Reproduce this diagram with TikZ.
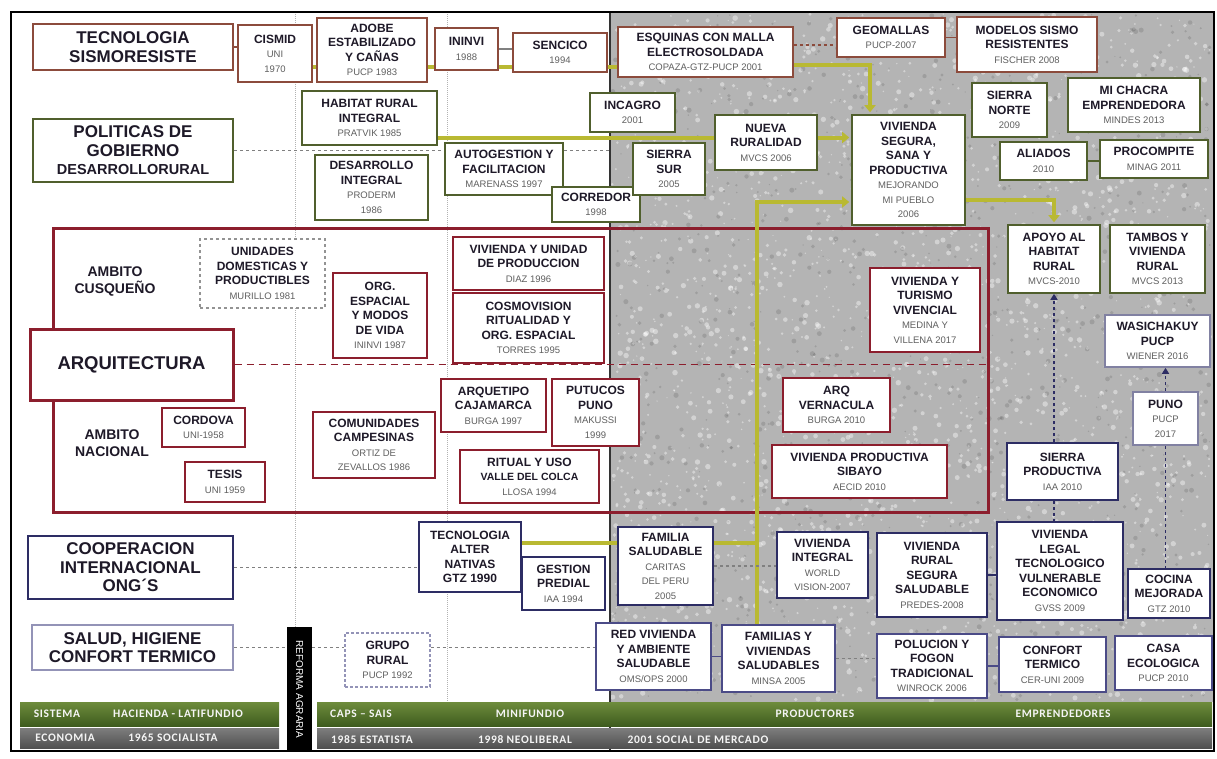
\documentclass[tikz,border=0pt]{standalone}
\usepackage{fontspec}
\setmainfont{Liberation Sans}
\newfontfamily\barfont[LetterSpace=6]{Carlito}
\usetikzlibrary{arrows.meta}

\definecolor{techc}{RGB}{140,75,60}
\definecolor{govc}{RGB}{80,95,45}
\definecolor{arqc}{RGB}{140,30,45}
\definecolor{ongc}{RGB}{45,45,100}
\definecolor{saludc}{RGB}{75,75,135}
\definecolor{ylw}{RGB}{185,185,50}
\definecolor{txt}{RGB}{30,25,40}
\definecolor{subgray}{RGB}{95,95,95}
\definecolor{bggray}{RGB}{180,180,180}
\definecolor{greentop}{RGB}{110,140,60}
\definecolor{greenbot}{RGB}{62,92,30}
\definecolor{greytop}{RGB}{125,125,125}
\definecolor{greybot}{RGB}{80,80,80}

\newcommand\yr[1]{{\mdseries\fontsize{9.5}{14.5}\selectfont\color{subgray}#1}}

\pgfdeclarelayer{back}
\pgfdeclarelayer{lines}
\pgfsetlayers{back,lines,main}

\begin{document}
\begin{tikzpicture}
	[x=1pt,y=-1pt,
	sz/.style 2 args={minimum width=#1, minimum height=#2},
	box/.style={draw, fill=white, line width=1.6pt, align=center, inner sep=1pt, text=txt,
		font=\bfseries\fontsize{12}{14.5}\selectfont},
	techbox/.style={box, draw=techc},
	govbox/.style={box, draw=govc},
	arqbox/.style={box, draw=arqc},
	ongbox/.style={box, draw=ongc},
	saludbox/.style={box, draw=saludc, line width=1.3pt},
	catbox/.style={box, line width=2pt, font=\bfseries\fontsize{17}{18.5}\selectfont},
	lbl/.style={align=center, text=txt, font=\bfseries\fontsize{14}{17}\selectfont},
	yline/.style={draw=ylw, line width=4pt},
	yarrow/.style={yline, shorten >=2pt, -{Triangle[length=7pt,width=11pt]}},
	dline/.style={draw=gray, dashed, line width=1.2pt},
	rdash/.style={draw=arqc, dashed, dash pattern=on 7pt off 5pt, line width=1.5pt},
	ndash/.style={draw=ongc, dashed, line width=1.5pt},
	narrow/.style={ndash, -{Triangle[length=6pt,width=7pt]}},
	bartxt/.style={text=white!92!gray, font=\barfont\bfseries\fontsize{11.5}{13}\selectfont}]

	\useasboundingbox (0,0) rectangle (1217,758);

	% background
	\begin{pgfonlayer}{back}
		\fill[white] (0,0) rectangle (1217,758);
		\fill[bggray] (610,12) rectangle (1213,702);
		\pgfmathsetseed{11}
		\foreach \i in {1,...,2600}{
			\pgfmathsetmacro\px{612+rnd*598}
			\pgfmathsetmacro\py{14+rnd*686}
			\pgfmathsetmacro\pr{0.6+rnd*2.2}
			\fill[white, opacity=.4] (\px,\py) circle[radius=\pr pt];
		}
		\foreach \i in {1,...,1200}{
			\pgfmathsetmacro\px{612+rnd*598}
			\pgfmathsetmacro\py{14+rnd*686}
			\pgfmathsetmacro\pr{0.6+rnd*2}
			\fill[black, opacity=.12] (\px,\py) circle[radius=\pr pt];
		}
		\draw[gray!60, densely dotted, line width=1pt] (295,12) -- (295,702);
		\draw[gray!60, densely dotted, line width=1pt] (447,12) -- (447,702);
		\draw[gray!40!black, line width=1.2pt] (610,12) -- (610,751);
	\end{pgfonlayer}

	% categories
	\node[catbox, draw=techc, sz={200}{46}] (tecno) at (133,47) {TECNOLOGIA\\SISMORESISTE};
	\node[catbox, draw=govc, sz={200}{63}] (politicas) at (133,150.5)
		{POLITICAS DE\\GOBIERNO\\{\fontsize{14.5}{17}\selectfont DESARROLLORURAL}};
	\node[catbox, draw=arqc, line width=3pt, sz={203}{71}, font=\bfseries\fontsize{18.5}{20}\selectfont] (arq) at (131.5,364.5) {ARQUITECTURA};
	\node[catbox, draw=ongc, sz={205}{63}] (coop) at (130.5,567.5) {COOPERACION\\INTERNACIONAL\\ONG´S};
	\node[catbox, draw=saludc!60, line width=1.5pt, sz={201}{45}] (salud) at (132.5,647.5) {SALUD, HIGIENE\\CONFORT TERMICO};
	\node[lbl] (cusqueno) at (115,281) {AMBITO\\CUSQUEÑO};
	\node[lbl] (nacional) at (112,443) {AMBITO\\NACIONAL};

	% tecnologia sismoresistente
	\node[techbox, sz={74}{57}] (cismid) at (275,53.5) {CISMID\\\yr{UNI}\\\yr{1970}};
	\node[techbox, sz={110}{64}] (adobe) at (372,50) {ADOBE\\ESTABILIZADO\\Y CAÑAS\\\yr{PUCP 1983}};
	\node[techbox, sz={63}{42}] (ininvi) at (466.5,49) {ININVI\\\yr{1988}};
	\node[techbox, sz={94}{39}] (sencico) at (560,52.5) {SENCICO\\\yr{1994}};
	\node[techbox, sz={175}{50}] (esquinas) at (705.5,52) {ESQUINAS CON MALLA\\ELECTROSOLDADA\\\yr{COPAZA-GTZ-PUCP 2001}};
	\node[techbox, sz={108}{39}] (geomallas) at (891,37.5) {GEOMALLAS\\\yr{PUCP-2007}};
	\node[techbox, sz={140}{55}] (modelos) at (1027,44.5) {MODELOS SISMO\\RESISTENTES\\\yr{FISCHER 2008}};

	% politicas de gobierno
	\node[govbox, sz={135}{54}] (habitat) at (369.5,118) {HABITAT RURAL\\INTEGRAL\\\yr{PRATVIK 1985}};
	\node[govbox, sz={113}{65}] (desarrollo) at (371.5,187.5) {DESARROLLO\\INTEGRAL\\\yr{PRODERM}\\\yr{1986}};
	\node[govbox, sz={118}{52}] (autogestion) at (504,169) {AUTOGESTION Y\\FACILITACION\\\yr{MARENASS 1997}};
	\node[govbox, sz={88}{35}] (corredor) at (596,204.5) {CORREDOR\\\yr{1998}};
	\node[govbox, sz={85}{39}] (incagro) at (632.5,112.5) {INCAGRO\\\yr{2001}};
	\node[govbox, sz={72}{52}] (sierrasur) at (669,169) {SIERRA\\SUR\\\yr{2005}};
	\node[govbox, sz={102}{55}] (nueva) at (766,142.5) {NUEVA\\RURALIDAD\\\yr{MVCS 2006}};
	\node[govbox, sz={113}{110}] (segura) at (908.5,170)
		{VIVIENDA\\SEGURA,\\SANA Y\\PRODUCTIVA\\\yr{MEJORANDO}\\\yr{MI PUEBLO}\\\yr{2006}};
	\node[govbox, sz={75}{54}] (sierranorte) at (1009.5,110) {SIERRA\\NORTE\\\yr{2009}};
	\node[govbox, sz={132}{54}] (michacra) at (1134,105) {MI CHACRA\\EMPRENDEDORA\\\yr{MINDES 2013}};
	\node[govbox, sz={87}{38}] (aliados) at (1043.5,161) {ALIADOS\\\yr{2010}};
	\node[govbox, sz={108}{38}] (procompite) at (1154,159) {PROCOMPITE\\\yr{MINAG 2011}};
	\node[govbox, sz={92}{68}] (apoyo) at (1054,259) {APOYO AL\\HABITAT\\RURAL\\\yr{MVCS-2010}};
	\node[govbox, sz={95}{68}] (tambos) at (1157.5,259) {TAMBOS Y\\VIVIENDA\\RURAL\\\yr{MVCS 2013}};

	% arquitectura
	\node[box, draw=gray!85, dashed, line width=1.3pt, sz={125}{69}] (unidades) at (262.5,273.5)
		{UNIDADES\\DOMESTICAS Y\\PRODUCTIBLES\\\yr{MURILLO 1981}};
	\node[arqbox, sz={94}{85}] (orgespacial) at (380,315.5) {ORG.\\ESPACIAL\\Y MODOS\\DE VIDA\\\yr{ININVI 1987}};
	\node[arqbox, sz={151}{53}] (vivunidad) at (528.5,263.5) {VIVIENDA Y UNIDAD\\DE PRODUCCION\\\yr{DIAZ 1996}};
	\node[arqbox, sz={151}{70}] (cosmovision) at (528.5,328) {COSMOVISION\\RITUALIDAD Y\\ORG. ESPACIAL\\\yr{TORRES 1995}};
	\node[arqbox, sz={110}{84}] (turismo) at (925,310) {VIVIENDA Y\\TURISMO\\VIVENCIAL\\\yr{MEDINA Y}\\\yr{VILLENA 2017}};
	\node[arqbox, sz={83}{39}] (cordova) at (203.5,427.5) {CORDOVA\\\yr{UNI-1958}};
	\node[arqbox, sz={80}{40}] (tesis) at (225,482) {TESIS\\\yr{UNI 1959}};
	\node[arqbox, sz={122}{66}] (comunidades) at (374,445) {COMUNIDADES\\CAMPESINAS\\\yr{ORTIZ DE}\\\yr{ZEVALLOS 1986}};
	\node[arqbox, sz={105}{53}] (arquetipo) at (493.5,405.5) {ARQUETIPO\\CAJAMARCA\\\yr{BURGA 1997}};
	\node[arqbox, sz={87}{67}] (putucos) at (595.5,412.5) {PUTUCOS\\PUNO\\\yr{MAKUSSI}\\\yr{1999}};
	\node[arqbox, sz={139}{53}] (ritual) at (529.5,476.5)
		{RITUAL Y USO\\{\fontsize{10.5}{14}\selectfont VALLE DEL COLCA}\\\yr{LLOSA 1994}};
	\node[arqbox, sz={107}{54}] (arqvern) at (836.5,405) {ARQ\\VERNACULA\\\yr{BURGA 2010}};
	\node[arqbox, sz={175}{53}] (sibayo) at (859.5,471.5) {VIVIENDA PRODUCTIVA\\SIBAYO\\\yr{AECID 2010}};

	% cooperacion internacional
	\node[ongbox, sz={102}{70}] (tecalt) at (470,557) {TECNOLOGIA\\ALTER\\NATIVAS\\GTZ 1990};
	\node[ongbox, sz={83}{53}] (gestion) at (563.5,583.5) {GESTION\\PREDIAL\\\yr{IAA 1994}};
	\node[ongbox, sz={95}{78}] (familia) at (665.5,566) {FAMILIA\\SALUDABLE\\\yr{CARITAS}\\\yr{DEL PERU}\\\yr{2005}};
	\node[ongbox, sz={91}{66}] (vivintegral) at (822.5,565) {VIVIENDA\\INTEGRAL\\\yr{WORLD}\\\yr{VISION-2007}};
	\node[ongbox, sz={110}{84}] (vivrural) at (932,575) {VIVIENDA\\RURAL\\SEGURA\\SALUDABLE\\\yr{PREDES-2008}};
	\node[ongbox, sz={126}{98}] (vivlegal) at (1060,571)
		{VIVIENDA\\LEGAL\\TECNOLOGICO\\VULNERABLE\\ECONOMICO\\\yr{GVSS 2009}};
	\node[ongbox, sz={82}{49}] (cocina) at (1169,593.5) {COCINA\\MEJORADA\\\yr{GTZ 2010}};
	\node[ongbox, sz={111}{57}] (sierraprod) at (1062.5,471.5) {SIERRA\\PRODUCTIVA\\\yr{IAA 2010}};
	\node[ongbox, draw=ongc!60, sz={65}{53}] (puno) at (1165.5,418.5) {PUNO\\\yr{PUCP}\\\yr{2017}};
	\node[ongbox, draw=ongc!60, sz={105}{52}] (wasichakuy) at (1157.5,341) {WASICHAKUY\\PUCP\\\yr{WIENER 2016}};

	% salud, higiene
	\node[saludbox, draw=saludc!60, densely dashed, sz={85}{54}] (grupo) at (387.5,660) {GRUPO\\RURAL\\\yr{PUCP 1992}};
	\node[saludbox, sz={115}{67}] (redvivienda) at (653.5,656.5) {RED VIVIENDA\\Y AMBIENTE\\SALUDABLE\\\yr{OMS/OPS 2000}};
	\node[saludbox, sz={113}{67}] (familias) at (778.5,658.5) {FAMILIAS Y\\VIVIENDAS\\SALUDABLES\\\yr{MINSA 2005}};
	\node[saludbox, sz={110}{64}] (polucion) at (932,666) {POLUCION Y\\FOGON\\TRADICIONAL\\\yr{WINROCK 2006}};
	\node[saludbox, sz={107}{55}] (confort) at (1052.5,664.5) {CONFORT\\TERMICO\\\yr{CER-UNI 2009}};
	\node[saludbox, sz={97}{54}] (casa) at (1163.5,663) {CASA\\ECOLOGICA\\\yr{PUCP 2010}};

	% connectors
	\begin{pgfonlayer}{lines}
		\node[draw=arqc, line width=3pt, sz={935}{284}] (arqframe) at (520.5,370) {};
		\draw[rdash] (arq.east) -- (arq.east -| arqframe.east);

		\coordinate (yA) at (0,67);
		\coordinate (yB) at (0,137.5);
		\coordinate (yC) at (0,543);
		\coordinate (yV) at (757,0);
		\coordinate (xD) at (610,0);
		\draw[yline] (cismid.east |- yA) -- (esquinas.west |- yA);
		\draw[yarrow] ([yshift=-13pt]esquinas.east) -| ([xshift=-38.5pt]segura.north);
		\draw[yline] (habitat.east |- yB) -- (nueva.west |- yB);
		\draw[yarrow] (nueva.east |- yB) -- (segura.west |- yB);
		\draw[yarrow] (yV |- familias.north) |- ([yshift=-32pt]segura.west);
		\draw[yline] (tecalt.east |- yC) -- (familia.west |- yC);
		\draw[yline] (familia.east |- yC) -- (yV |- yC);
		\draw[yarrow] ([yshift=-30pt]segura.east) -| (apoyo.north);

		\draw[dline] (politicas.east) -- (politicas.east -| xD);
		\draw[dline] (coop.east) -- (coop.east -| tecalt.west);
		\draw[dline] (salud.east) -- (salud.east -| grupo.west);
		\draw[dline] (grupo.east |- salud.east) -- (salud.east -| redvivienda.west);
		\draw[dline] (familia.east) -- (familia.east -| vivintegral.west);
		\draw[dline] (familias.east) -- (familias.east -| polucion.west);

		\draw[techc, line width=1.5pt] (tecno.east) -- (tecno.east -| cismid.west);
		\draw[techc, dashed, line width=1.5pt] ([yshift=7pt]esquinas.east) -- ([yshift=-7.5pt]geomallas.west);
		\draw[techc, line width=1.5pt] (geomallas.east) -- (geomallas.east -| modelos.west);
		\draw[gray, line width=1.2pt] (ininvi.east) -- (ininvi.east -| sencico.west);
		\draw[govc, line width=1.2pt] (aliados.east) -- (aliados.east -| procompite.west);
		\draw[ongc, line width=1.2pt] (vivrural.east) -- (vivrural.east -| vivlegal.west);
		\draw[saludc, line width=1.2pt] (redvivienda.east) -- (redvivienda.east -| familias.west);
		\draw[saludc, line width=1.2pt] (polucion.east) -- (polucion.east -| confort.west);

		\draw[narrow] (apoyo.south |- sierraprod.north) -- (apoyo.south);
		\draw[ndash] (apoyo.south |- sierraprod.south) -- (apoyo.south |- vivlegal.north);
		\draw[narrow] (puno.north) -- (puno.north |- wasichakuy.south);
		\draw[ndash] (puno.south) -- (puno.south |- cocina.north);
	\end{pgfonlayer}

	% timeline bars
	\shade[top color=greentop, bottom color=greenbot] (20,702) rectangle (279,726);
	\shade[top color=greytop, bottom color=greybot] (20,728) rectangle (279,748);
	\shade[top color=greentop, bottom color=greenbot] (317,702) rectangle (1212,726);
	\shade[top color=greytop, bottom color=greybot] (317,728) rectangle (1212,748);
	\node[fill=black, text=white, rotate=-90, sz={125}{25}, font=\fontsize{10}{12}\selectfont] (reforma) at (299.5,689.5) {REFORMA AGRARIA};

	\node[bartxt] (sistema) at (57,714) {SISTEMA};
	\node[bartxt] (hacienda) at (178,714) {HACIENDA - LATIFUNDIO};
	\node[bartxt] (economia) at (65,738) {ECONOMIA};
	\node[bartxt] (socialista) at (173,738) {1965 SOCIALISTA};
	\node[bartxt] (caps) at (361,714) {CAPS – SAIS};
	\node[bartxt] (minifundio) at (530,714) {MINIFUNDIO};
	\node[bartxt] (productores) at (815,714) {PRODUCTORES};
	\node[bartxt] (emprendedores) at (1063,714) {EMPRENDEDORES};
	\node[bartxt] (estatista) at (372,740) {1985 ESTATISTA};
	\node[bartxt] (neoliberal) at (525,740) {1998 NEOLIBERAL};
	\node[bartxt] (mercado) at (698,740) {2001 SOCIAL DE MERCADO};

	% outer frame
	\draw[line width=2.5pt] (11,12) rectangle (1214,751);
\end{tikzpicture}
\end{document}
